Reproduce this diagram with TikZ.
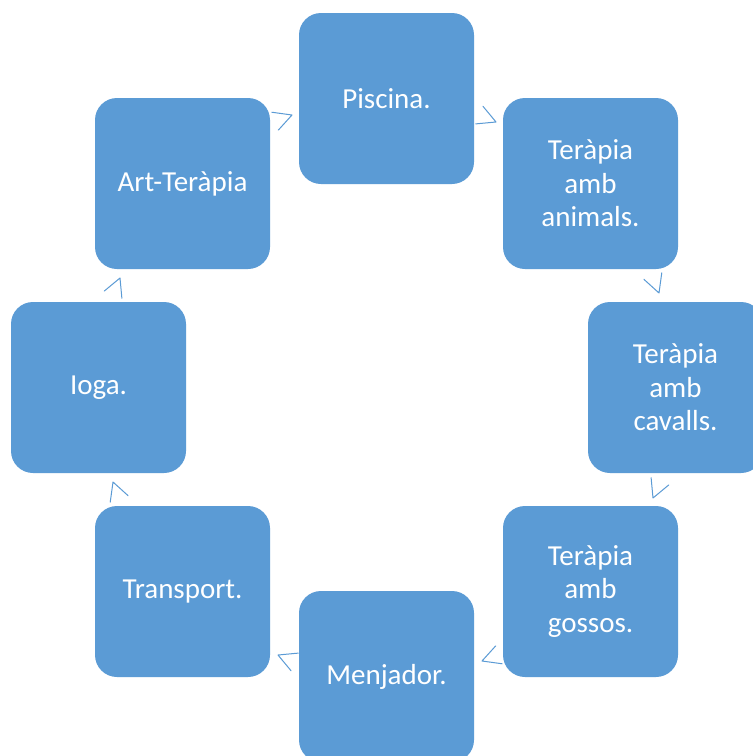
\documentclass[tikz,border=0pt]{standalone}
\usepackage{fontspec}
\setmainfont{Carlito}
\definecolor{boxblue}{HTML}{5B9BD5}
\definecolor{arrblue}{HTML}{5B9BD5}
\tikzset{
  cyclebox/.style={fill=boxblue, draw=none, rounded corners=22pt,
    minimum width=175pt, minimum height=171pt, inner sep=0pt,
    text=white, align=center, font=\fontsize{29}{33.5}\selectfont},
  chev/.pic={\draw[arrblue, line width=1pt, line cap=round, line join=round]
    (-18,9.5) -- (0,0) -- (-18,-9.5);}
}
\begin{document}
\begin{tikzpicture}[x=1pt,y=1pt]
\useasboundingbox (0,0) rectangle (753,-756);
\clip (0,0) rectangle (753,-756);
\fill[white] (0,0) rectangle (753,-756);
\node[cyclebox] (piscina) at (386.5,-98.5) {Piscina.};
\node[cyclebox] (animals) at (590.5,-183.5) {Teràpia\\amb\\animals.};
\node[cyclebox] (cavalls) at (675.5,-387.5) {Teràpia\\amb\\cavalls.};
\node[cyclebox] (gossos) at (590.5,-591.5) {Teràpia\\amb\\gossos.};
\node[cyclebox] (menjador) at (386.5,-676.5) {Menjador.};
\node[cyclebox] (transport) at (182.5,-591.5) {Transport.};
\node[cyclebox] (ioga) at (98.5,-387.5) {Ioga.};
\node[cyclebox] (art) at (182.5,-183.5) {Art-Teràpia};
\coordinate (h1) at (292,-115);
\coordinate (h2) at (496,-122);
\coordinate (h3) at (659,-293);
\coordinate (h4) at (653,-498);
\coordinate (h5) at (482,-661);
\coordinate (h6) at (278,-655);
\coordinate (h7) at (113,-482);
\coordinate (h8) at (120,-278);
\pic[rotate=20] at (h1) {chev};
\pic[rotate=-22.5] at (h2) {chev};
\pic[rotate=-70] at (h3) {chev};
\pic[rotate=-112.5] at (h4) {chev};
\pic[rotate=-160] at (h5) {chev};
\pic[rotate=157.5] at (h6) {chev};
\pic[rotate=110] at (h7) {chev};
\pic[rotate=67.5] at (h8) {chev};
\end{tikzpicture}
\end{document}
